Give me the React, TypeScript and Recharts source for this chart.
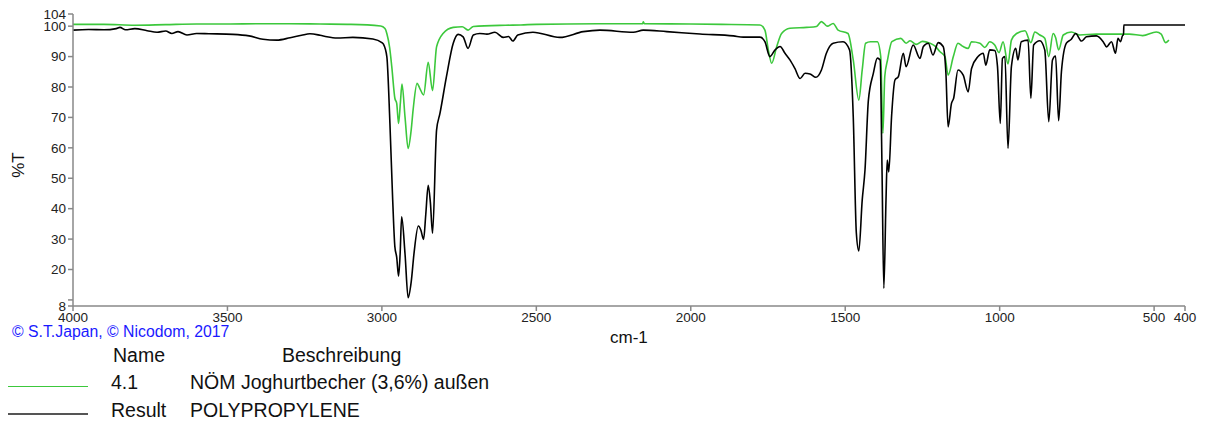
import React from "react";
import { LineChart, Line, XAxis, YAxis } from "recharts";

// Result: POLYPROPYLENE reference spectrum (wavenumber cm-1, %T)
const resultWn = [4000,3950,3900,3860,3848,3830,3800,3760,3728,3700,3680,3660,3631,3600,3560,3482,3430,3385,3340,3297,3260,3233,3200,3178,3145,3094,3029,3000,2995,2984,2974,2965,2958,2952,2946,2941,2936,2925,2915,2905,2896,2882,2874,2865,2858,2850,2843,2836,2823,2812,2791,2769,2753,2737,2721,2704,2683,2660,2634,2607,2590,2576,2560,2511,2424,2348,2294,2186,2154,2078,1970,1862,1830,1776,1760,1744,1727,1711,1695,1679,1663,1646,1630,1614,1595,1577,1561,1539,1507,1486,1474,1464,1456,1445,1436,1425,1409,1396,1387,1381,1375,1368,1364,1359,1350,1339,1328,1312,1303,1280,1258,1247,1231,1216,1199,1183,1174,1167,1156,1149,1135,1118,1102,1091,1070,1053,1045,1032,1016,1007,998,991,983,973,962,948,941,930,908,899,890,870,854,841,829,819,809,800,784,768,754,735,719,687,665,654,638,625,617,609,601,599,598,400];
const resultT = [98.7,98.9,98.8,99.2,99.6,98.8,99.2,98.5,98.0,98.4,97.6,98.2,97.1,97.6,97.5,97.3,96.8,95.7,95.4,96.2,97.0,97.5,97.0,96.5,96.1,96.3,95.8,94.6,94.1,90.0,68.0,42.8,27.5,24.0,17.8,25,37.3,25,10.7,16,25.3,34.3,33,29.9,38,47.7,42,31.9,65.8,71.3,83.4,94.4,97.3,96.5,92.7,97.1,97.6,97.4,98.0,96.3,96.6,95.1,97.1,98.0,96.3,98.2,98.7,98.0,98.7,98.2,97.4,96.8,96.4,96.4,94.9,90.0,92.2,93.3,91.1,88.9,86.1,82.8,84.5,84.3,83.2,85.6,91.1,94.4,94.9,92.2,70.2,32,26.1,42.8,52.7,75.7,84.5,89.5,88.9,53.8,13.8,42.8,56,52.1,70.2,82.3,83.4,91.1,86.7,93.8,89.4,93.3,94.4,90.5,94.6,93.3,84.5,66.9,74.6,76.3,85.6,83.9,78.4,86.1,90,91.1,87.2,92.2,92.0,86.7,68,89.4,90,59.8,86.7,92.7,88.9,94.9,95.4,76.3,93.8,95.2,92.2,68.6,88.9,90.2,68.9,85.1,94.4,95.7,97.6,95.1,96.5,96.8,94.9,93.2,94.9,91.1,96,94.9,97.1,97.1,100.4,100.4];

// Sample 4.1: NÖM Joghurtbecher (3,6%) außen
const sampleWn = [4000,3900,3800,3700,3600,3500,3400,3300,3200,3100,3004,2990,2984,2975,2968,2958,2952,2946,2940,2935,2925,2915,2905,2899,2886,2877,2865,2850,2836,2823,2802,2769,2740,2721,2704,2600,2550,2500,2300,2156,2154,2150,2000,1900,1776,1760,1749,1738,1722,1706,1679,1625,1593,1577,1568,1558,1539,1523,1491,1474,1456,1445,1434,1418,1396,1385,1378,1372,1363,1349,1320,1303,1290,1270,1250,1226,1210,1193,1177,1167,1150,1135,1118,1102,1091,1064,1048,1032,1016,1002,989,973,962,945,918,899,886,870,854,841,827,819,809,794,768,741,687,633,580,537,493,477,463,452];
const sampleT = [100.6,100.6,100.3,100.5,100.7,100.7,100.8,100.8,100.7,100.6,100.05,99.2,97.6,93,86.7,76.3,74.6,68,75,81,70,59.8,66,72.4,81.2,79.5,77.4,88.1,78.8,93.2,97.6,99.6,99.8,98.7,99.9,100.3,100.4,100.6,100.8,100.8,101.4,100.8,100.7,100.6,100.4,98.7,92.2,87.8,93.2,97.6,99.3,99.6,99.9,101.5,100.8,100.0,100.9,98.7,97.6,88.9,75.7,85.6,94.4,94.9,94.9,90,64.8,83.4,88.9,94.9,96.0,94.4,95.2,94.0,95.0,94.4,93.5,91.6,90,83.9,90,94.4,93.3,92.7,94.9,94.4,93,94.9,93.8,91.3,94.9,87.6,95.4,97.6,98.5,94.6,98.1,97.1,96,90,97.6,96.3,92.2,97.1,98.1,97.1,97.4,97.4,97.4,96.9,98.1,97.4,94.6,95.4];

const xTicks = [4000, 3500, 3000, 2500, 2000, 1500, 1000, 500, 400];
const yTicks = [8, 10, 20, 30, 40, 50, 60, 70, 80, 90, 100, 104];
const yHiddenLabels = [10];

const legendHeader = ["Name", "Beschreibung"];
const legendRows = [
  { name: "4.1", desc: "NÖM Joghurtbecher (3,6%) außen", color: "#3cc83c" },
  { name: "Result", desc: "POLYPROPYLENE", color: "#555555" },
];
const copyright = "© S.T.Japan, © Nicodom, 2017";
const xLabel = "cm-1";
const yLabel = "%T";

const resultData = resultWn.map((wn, i) => ({ wn, t: resultT[i] }));
const sampleData = sampleWn.map((wn, i) => ({ wn, t: sampleT[i] }));

const FONT = "'Liberation Sans', Arial, sans-serif";

const YTick = (props: any) => {
  const { x, y, payload } = props;
  if (yHiddenLabels.includes(payload.value)) return <g />;
  return (
    <text x={x} y={y} dy="0.35em" textAnchor="end" fontSize={13.5} fontFamily={FONT} fill="#222">
      {payload.value}
    </text>
  );
};

export default function App() {
  const abs = (left: number, top: number, size: number, extra: any = {}) => ({
    position: "absolute" as const,
    left,
    top,
    fontSize: size,
    lineHeight: `${size}px`,
    fontFamily: FONT,
    whiteSpace: "nowrap" as const,
    color: "#111",
    ...extra,
  });
  return (
    <div style={{ position: "absolute", left: 0, top: 0, width: 1205, height: 423, background: "#fff" }}>
      <LineChart
        width={1205}
        height={423}
        margin={{ top: 14, right: 20, bottom: 87, left: 33 }}
      >
        <XAxis
          dataKey="wn"
          type="number"
          domain={[400, 4000]}
          reversed
          ticks={xTicks}
          allowDataOverflow
          height={30}
          tickSize={5}
          tickMargin={1}
          stroke="#888"
          strokeWidth={1.5}
          tick={{ fontSize: 13.5, fontFamily: FONT, fill: "#222" }}
          interval={0}
        />
        <YAxis
          type="number"
          domain={[8, 104]}
          ticks={yTicks}
          allowDataOverflow
          width={40}
          tickSize={5}
          tickMargin={2}
          stroke="#888"
          strokeWidth={1.5}
          tick={<YTick />}
          interval={0}
        />
        <Line
          data={sampleData}
          dataKey="t"
          type="monotoneX"
          stroke="#3cc83c"
          strokeWidth={1.6}
          dot={false}
          isAnimationActive={false}
        />
        <Line
          data={resultData}
          dataKey="t"
          type="monotoneX"
          stroke="#000"
          strokeWidth={1.6}
          dot={false}
          isAnimationActive={false}
        />
      </LineChart>

      <div style={abs(18, 165, 17, { transform: "translate(-50%, -50%) rotate(-90deg)", left: 18 })}>{yLabel}</div>
      <div style={abs(610, 328.5, 17)}>{xLabel}</div>
      <div style={abs(12, 324, 15.8, { color: "#1a1aff" })}>{copyright}</div>

      <div style={abs(113, 345.5, 19.5)}>{legendHeader[0]}</div>
      <div style={abs(282, 345.5, 19.5)}>{legendHeader[1]}</div>

      {legendRows.map((r, i) => {
        const cy = i === 0 ? 383 : 411;
        return (
          <React.Fragment key={r.name}>
            <div
              style={{
                position: "absolute",
                left: 8,
                top: (i === 0 ? 386 : 414) - (i === 0 ? 0.5 : 1),
                width: 80,
                height: 0,
                borderTop: `${i === 0 ? 1.3 : 2}px solid ${r.color}`,
              }}
            />
            <div style={abs(111, cy - 9.75, 19.5)}>{r.name}</div>
            <div style={abs(190, cy - 9.75, 19.5)}>{r.desc}</div>
          </React.Fragment>
        );
      })}
    </div>
  );
}
